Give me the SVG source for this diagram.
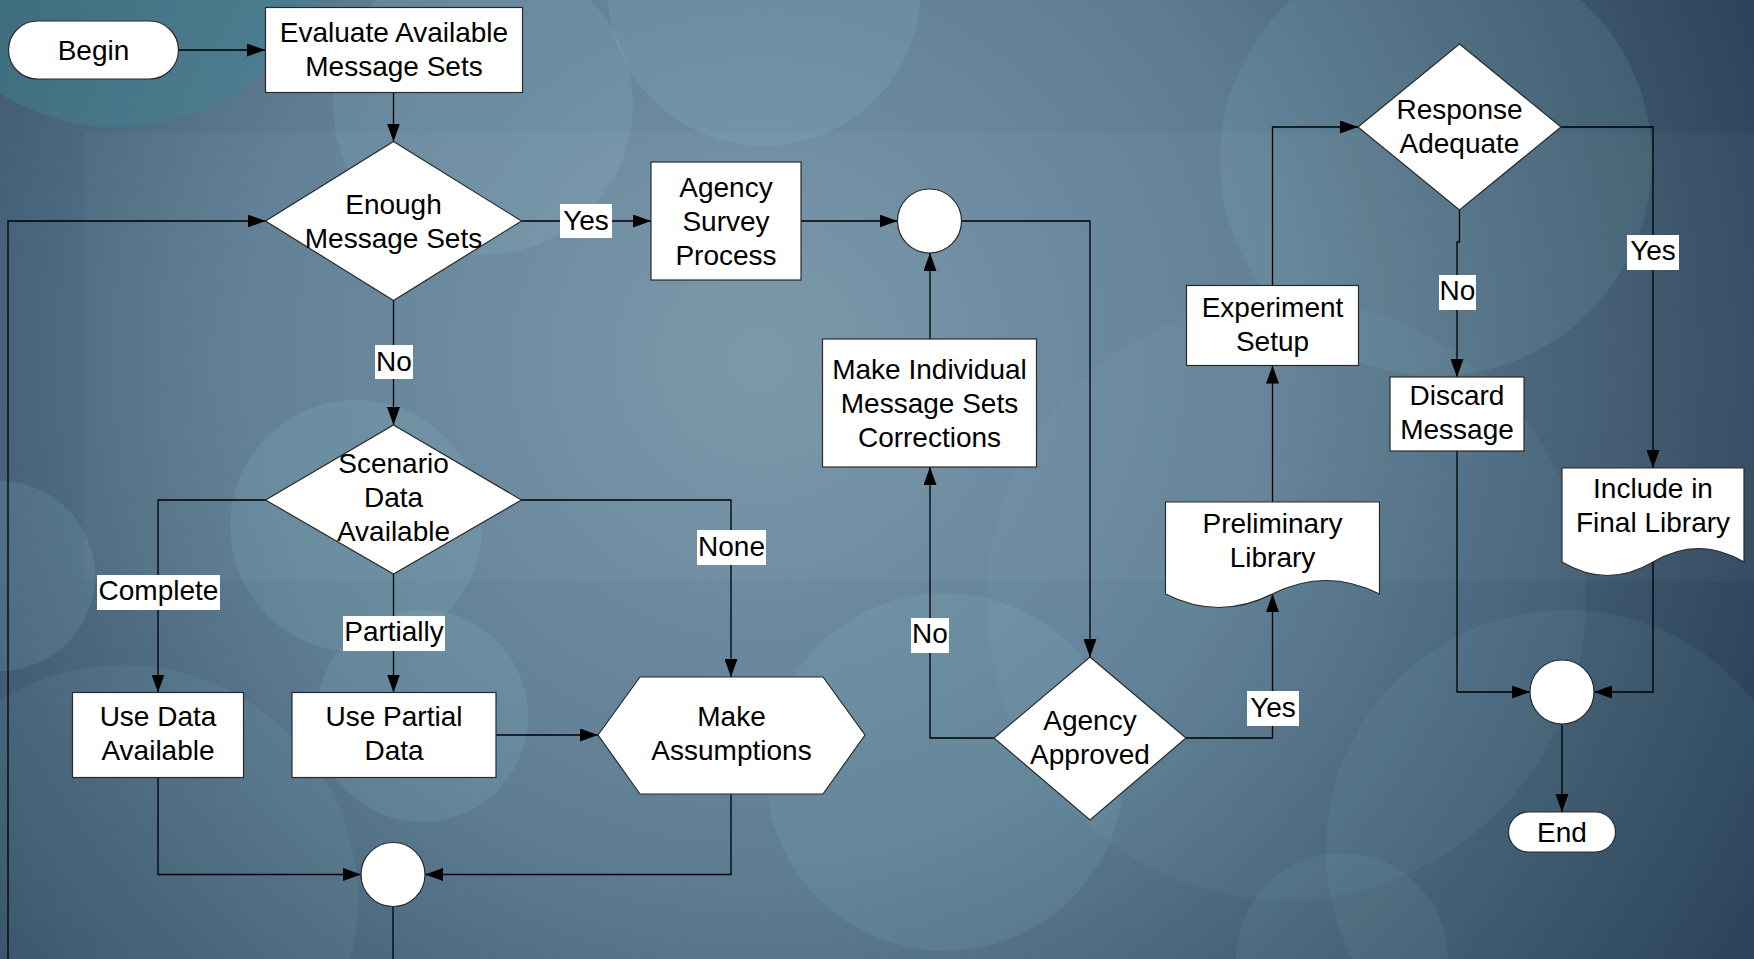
<svg xmlns="http://www.w3.org/2000/svg" width="1754" height="959" viewBox="0 0 1754 959">
<style>
.node{fill:#ffffff;stroke:#2a2a2a;stroke-width:1.2}
.t{font-family:"Liberation Sans",Arial,sans-serif;font-size:28px;fill:#000;text-anchor:middle}
.c{fill:none;stroke:#000;stroke-width:1.3}
.arr{marker-end:url(#ah)}
.lb{fill:#ffffff}
.deco{fill:#9fd3da}
</style>
<defs>
<radialGradient id="bg" cx="760" cy="360" r="1150" gradientUnits="userSpaceOnUse">
<stop offset="0" stop-color="#7896aa"/>
<stop offset="0.45" stop-color="#5e7d93"/>
<stop offset="1" stop-color="#233950"/>
</radialGradient>
<marker id="ah" markerUnits="userSpaceOnUse" markerWidth="19" markerHeight="13" refX="18" refY="6.5" orient="auto">
<path d="M0,0 L18,6.5 L0,13 Z" fill="#000"/>
</marker>
</defs>
<g id="background">
<rect x="0" y="0" width="1754" height="959" fill="url(#bg)"/>
<rect x="84" y="133" width="1670" height="448" fill="#ffffff" opacity="0.03"/>
<circle cx="117" cy="-95" r="222" fill="#3f8592" opacity="0.45"/>
<circle class="deco" cx="483" cy="105" r="150" opacity="0.13"/>
<circle class="deco" cx="764" cy="-11" r="157" opacity="0.12"/>
<circle class="deco" cx="1436" cy="160" r="216" opacity="0.10"/>
<circle class="deco" cx="1286" cy="600" r="300" opacity="0.06"/>
<circle class="deco" cx="0" cy="576" r="95" opacity="0.12"/>
<circle class="deco" cx="123" cy="900" r="235" opacity="0.08"/>
<circle class="deco" cx="356" cy="526" r="126" opacity="0.12"/>
<circle class="deco" cx="422" cy="716" r="106" opacity="0.12"/>
<circle class="deco" cx="945" cy="772" r="179" opacity="0.10"/>
<circle class="deco" cx="1566" cy="850" r="240" opacity="0.07"/>
<circle class="deco" cx="1342" cy="959" r="106" opacity="0.08"/>
</g>
<g id="connectors">
<path class="c arr" d="M179,50 H265"/>
<path class="c arr" d="M393.5,92.5 V141.5"/>
<path class="c arr" d="M521.5,221 H651"/>
<path class="c arr" d="M801,221 H897.5"/>
<path class="c arr" d="M961.5,221 H1090 V657"/>
<path class="c arr" d="M994,738 H930 V467"/>
<path class="c arr" d="M930,339 V253"/>
<path class="c arr" d="M1186,738 H1272.5 V594"/>
<path class="c arr" d="M1272.5,502 V365.5"/>
<path class="c arr" d="M1272.5,285.5 V127 H1358"/>
<path class="c arr" d="M1459.5,210 V242 H1457 V377"/>
<path class="c arr" d="M1457,451 V692 H1530"/>
<path class="c arr" d="M1561,127 H1653 V468"/>
<path class="c arr" d="M1653,562 V692 H1594"/>
<path class="c arr" d="M1562,724 V812"/>
<path class="c arr" d="M393.5,300.5 V425"/>
<path class="c arr" d="M265.5,500 H158 V692.5"/>
<path class="c arr" d="M393.5,574 V692.5"/>
<path class="c arr" d="M521.5,500 H731 V677"/>
<path class="c arr" d="M496,735 H598"/>
<path class="c arr" d="M158,777.5 V874.5 H361"/>
<path class="c arr" d="M731,794 V874.5 H425"/>
<path class="c" d="M393,906.5 V970"/>
<path class="c arr" d="M8,970 V221 H265.5"/>
<g id="labels">
<rect class="lb" x="560" y="204" width="52" height="34"/><text class="t" x="586" y="230">Yes</text>
<rect class="lb" x="375" y="345" width="38" height="34"/><text class="t" x="394" y="371">No</text>
<rect class="lb" x="97" y="575" width="123" height="35"/><text class="t" x="158.5" y="600">Complete</text>
<rect class="lb" x="343" y="616" width="102" height="35"/><text class="t" x="394" y="641">Partially</text>
<rect class="lb" x="697" y="530" width="69" height="35"/><text class="t" x="731.5" y="556">None</text>
<rect class="lb" x="911" y="618" width="38" height="35"/><text class="t" x="930" y="643">No</text>
<rect class="lb" x="1247" y="691" width="52" height="35"/><text class="t" x="1273" y="717">Yes</text>
<rect class="lb" x="1439" y="275" width="37" height="35"/><text class="t" x="1457.5" y="300">No</text>
<rect class="lb" x="1627" y="235" width="52" height="35"/><text class="t" x="1653" y="260">Yes</text>
</g>
</g>
<g id="begin">
<rect class="node" x="8.5" y="21" width="170" height="58" rx="29"/>
<text class="t" x="93.5" y="60">Begin</text>
</g>
<g id="evaluate">
<rect class="node" x="265.5" y="7.5" width="257" height="85"/>
<text class="t" x="394" y="42">Evaluate Available</text>
<text class="t" x="394" y="76">Message Sets</text>
</g>
<g id="enough">
<polygon class="node" points="393.5,141.5 521.5,221 393.5,300.5 265.5,221"/>
<text class="t" x="393.5" y="214">Enough</text>
<text class="t" x="393.5" y="248">Message Sets</text>
</g>
<g id="agency-survey">
<rect class="node" x="651" y="162" width="150" height="118"/>
<text class="t" x="726" y="197">Agency</text>
<text class="t" x="726" y="231">Survey</text>
<text class="t" x="726" y="265">Process</text>
</g>
<g id="merge1">
<circle class="node" cx="929.5" cy="221" r="32"/>
</g>
<g id="corrections">
<rect class="node" x="822.5" y="339" width="214" height="128"/>
<text class="t" x="929.5" y="379">Make Individual</text>
<text class="t" x="929.5" y="413">Message Sets</text>
<text class="t" x="929.5" y="447">Corrections</text>
</g>
<g id="agency-approved">
<polygon class="node" points="1090,657 1186,738 1090,820 994,738"/>
<text class="t" x="1090" y="730">Agency</text>
<text class="t" x="1090" y="764">Approved</text>
</g>
<g id="preliminary">
<path class="node" d="M1165.5,502 H1379.5 V594 C1343.8,576 1308.2,576 1272.5,594 C1236.8,612 1201.2,612 1165.5,594 Z"/>
<text class="t" x="1272.5" y="533">Preliminary</text>
<text class="t" x="1272.5" y="567">Library</text>
</g>
<g id="experiment">
<rect class="node" x="1186.5" y="285.5" width="172" height="80"/>
<text class="t" x="1272.5" y="317">Experiment</text>
<text class="t" x="1272.5" y="351">Setup</text>
</g>
<g id="response">
<polygon class="node" points="1459.5,44 1561,127 1459.5,210 1358,127"/>
<text class="t" x="1459.5" y="119">Response</text>
<text class="t" x="1459.5" y="153">Adequate</text>
</g>
<g id="discard">
<rect class="node" x="1390" y="377" width="134" height="74"/>
<text class="t" x="1457" y="405">Discard</text>
<text class="t" x="1457" y="439">Message</text>
</g>
<g id="include">
<path class="node" d="M1562,468 H1744 V562 C1713.7,544 1683.3,544 1653,562 C1622.7,580 1592.3,580 1562,562 Z"/>
<text class="t" x="1653" y="498">Include in</text>
<text class="t" x="1653" y="532">Final Library</text>
</g>
<g id="merge2">
<circle class="node" cx="1562" cy="692" r="32"/>
</g>
<g id="end">
<rect class="node" x="1508.5" y="812" width="107" height="40" rx="20"/>
<text class="t" x="1562" y="842">End</text>
</g>
<g id="scenario">
<polygon class="node" points="393.5,425 521.5,500 393.5,574 265.5,500"/>
<text class="t" x="393.5" y="473">Scenario</text>
<text class="t" x="393.5" y="507">Data</text>
<text class="t" x="393.5" y="541">Available</text>
</g>
<g id="use-data">
<rect class="node" x="72.5" y="692.5" width="171" height="85"/>
<text class="t" x="158" y="726">Use Data</text>
<text class="t" x="158" y="760">Available</text>
</g>
<g id="use-partial">
<rect class="node" x="292" y="692.5" width="204" height="85"/>
<text class="t" x="394" y="726">Use Partial</text>
<text class="t" x="394" y="760">Data</text>
</g>
<g id="assumptions">
<polygon class="node" points="598,735 640,677 823,677 865,735 823,794 640,794"/>
<text class="t" x="731.5" y="726">Make</text>
<text class="t" x="731.5" y="760">Assumptions</text>
</g>
<g id="merge3">
<circle class="node" cx="393" cy="874.5" r="32"/>
</g>
</svg>
